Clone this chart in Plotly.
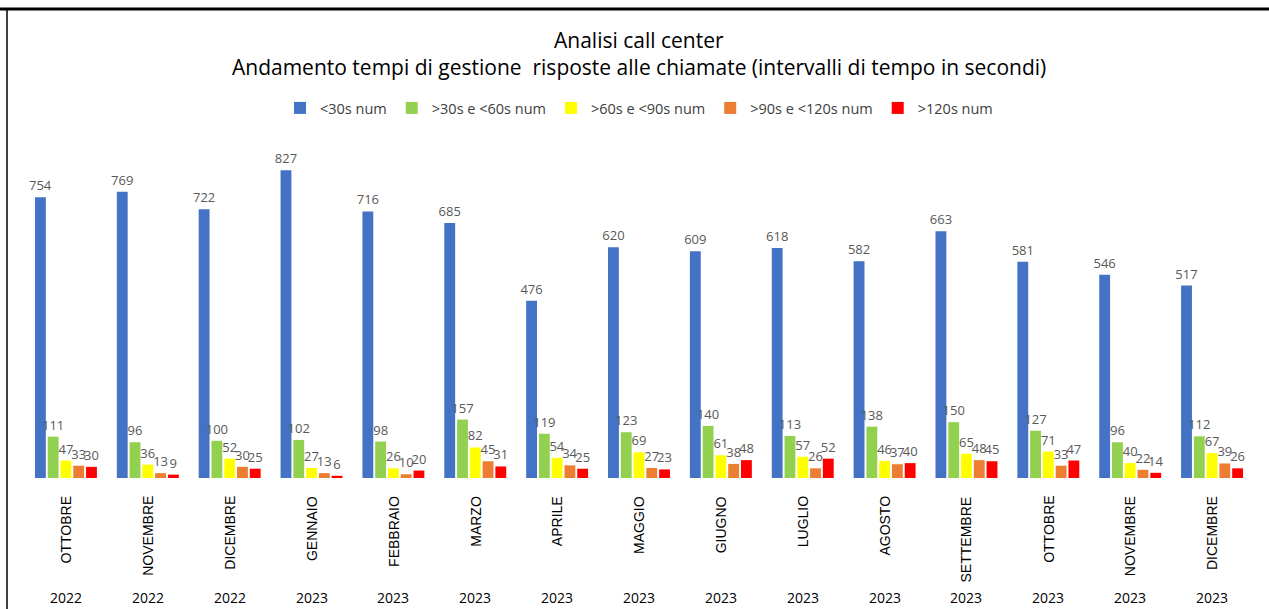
import plotly.graph_objects as go

months = ["OTTOBRE", "NOVEMBRE", "DICEMBRE", "GENNAIO", "FEBBRAIO", "MARZO", "APRILE",
          "MAGGIO", "GIUGNO", "LUGLIO", "AGOSTO", "SETTEMBRE", "OTTOBRE", "NOVEMBRE", "DICEMBRE"]
years = ["2022", "2022", "2022", "2023", "2023", "2023", "2023", "2023", "2023", "2023",
         "2023", "2023", "2023", "2023", "2023"]

s_lt30 = [754, 769, 722, 827, 716, 685, 476, 620, 609, 618, 582, 663, 581, 546, 517]
s_30_60 = [111, 96, 100, 102, 98, 157, 119, 123, 140, 113, 138, 150, 127, 96, 112]
s_60_90 = [47, 36, 52, 27, 26, 82, 54, 69, 61, 57, 46, 65, 71, 40, 67]
s_90_120 = [33, 13, 30, 13, 10, 45, 34, 27, 38, 26, 37, 48, 33, 22, 39]
s_gt120 = [30, 9, 25, 6, 20, 31, 25, 23, 48, 52, 40, 45, 47, 14, 26]

series = [
    ("<30s num", s_lt30, "#4472C4"),
    (">30s e <60s num", s_30_60, "#92D050"),
    (">60s e <90s num", s_60_90, "#FFFF00"),
    (">90s e <120s num", s_90_120, "#ED7D31"),
    (">120s num", s_gt120, "#FF0000"),
]

FONT = "Open Sans, sans-serif"
x = list(range(len(months)))

L, T, B = 25, 143, 478
W_PLOT = 1228
H_PLOT = B - T


def py(pix):
    return (B - pix) / H_PLOT


def px(pix):
    return (pix - L) / W_PLOT


fig = go.Figure()
for name, vals, col in series:
    fig.add_trace(go.Bar(
        x=x, y=vals, name=name, marker=dict(color=col, line=dict(width=0)),
        text=[str(v) for v in vals], textposition="outside",
        textfont=dict(color="#595959", size=13, family=FONT),
        constraintext="none", cliponaxis=False,
    ))

for i, (m, yr) in enumerate(zip(months, years)):
    fig.add_annotation(x=i, y=0, xref="x", yref="paper", yshift=-16, text=m,
                       textangle=-90, yanchor="top", xanchor="center", showarrow=False,
                       font=dict(size=14, color="#000000", family="Liberation Sans, Arial, sans-serif"))
    fig.add_annotation(x=i, y=py(597), xref="x", yref="paper", text=yr,
                       yanchor="middle", showarrow=False,
                       font=dict(size=14, color="#000000", family=FONT))

# Title lines
fig.add_annotation(x=0.5, y=py(40), xref="paper", yref="paper", showarrow=False,
                   text="Analisi call center", yanchor="middle",
                   font=dict(size=21, color="#000000", family=FONT))
fig.add_annotation(x=0.5, y=py(67), xref="paper", yref="paper", showarrow=False,
                   text="Andamento tempi di gestione  risposte alle chiamate (intervalli di tempo in secondi)",
                   yanchor="middle",
                   font=dict(size=21, color="#000000", family=FONT))

# frame lines (top and left)
fig.add_shape(type="line", xref="paper", yref="paper", x0=px(-2), x1=px(1272),
              y0=py(9), y1=py(9), line=dict(color="#000000", width=3))
fig.add_shape(type="line", xref="paper", yref="paper", x0=px(7), x1=px(7),
              y0=py(9), y1=py(612), line=dict(color="#000000", width=1.5))

fig.update_layout(
    width=1269, height=609,
    margin=dict(l=L, r=1269 - L - W_PLOT, t=T, b=609 - B, autoexpand=False),
    paper_bgcolor="#FFFFFF", plot_bgcolor="#FFFFFF",
    barmode="group", bargap=0.22, bargroupgap=0.15,
    legend=dict(orientation="h", x=0.5, xanchor="center", y=py(108), yanchor="middle",
                font=dict(size=14.5, color="#404040", family=FONT),
                itemwidth=30, traceorder="normal"),
    xaxis=dict(tickmode="array", tickvals=x, showticklabels=False,
               showgrid=False, zeroline=False, showline=False, ticks="",
               range=[-0.5, len(months) - 0.5], automargin=False),
    yaxis=dict(range=[0, 900], visible=False, showgrid=False, automargin=False),
    showlegend=True,
)

fig.write_html("out.html", config={"displayModeBar": False},
               post_script="document.body.style.margin='0';document.body.style.overflow='hidden';")
